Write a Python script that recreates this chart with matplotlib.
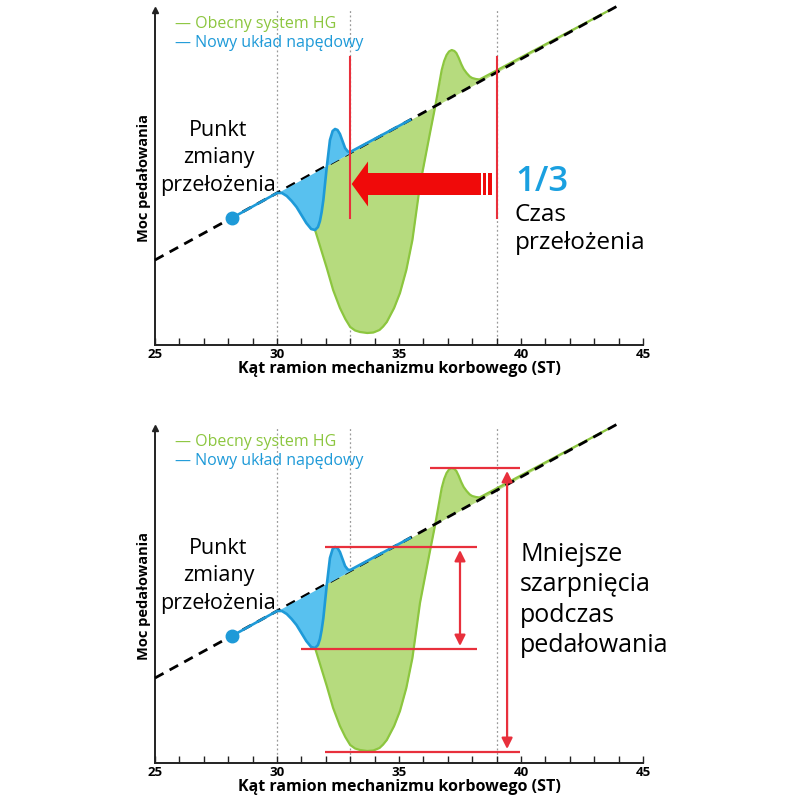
import numpy as np
import matplotlib
matplotlib.use("Agg")
import matplotlib.pyplot as plt
from matplotlib.patches import FancyArrow, Rectangle

plt.rcParams['font.family'] = ['Open Sans', 'DejaVu Sans']

# --- data (x = crank angle ST, y = pedalling power, arbitrary units) ---
base_x = [25.0, 44.14]
base_y = [85.0, 341.5]

blue_x = [28.15, 30.0, 30.2, 30.4, 30.6, 30.8, 31.0, 31.2, 31.4, 31.56, 31.68, 31.76,
          31.83, 31.9, 32.04, 32.17, 32.28, 32.38, 32.48, 32.58, 32.7, 32.79,
          32.9, 33.0, 35.45]
blue_y = [127, 152, 152, 149, 144, 138, 130, 122, 116, 115, 118, 124,
          133, 145, 178, 205, 214, 216, 215, 211, 203, 197,
          193.5, 193, 225]

green_x = [31.56, 31.8, 32.04, 32.3, 32.58, 32.8, 33.0, 33.2, 33.4, 33.7, 33.95,
           34.2, 34.35, 34.5, 34.8, 35.04, 35.3, 35.55, 35.86, 36.27, 36.48,
           36.75, 36.85, 36.95, 37.05, 37.16, 37.27, 37.35, 37.45, 37.55, 37.65,
           37.77, 37.9, 38.0, 38.15, 38.3, 44.14]
green_y = [115, 96, 77, 55, 37, 26, 18, 14.5, 13, 12, 12.5,
           15, 18.5, 23, 37, 52, 75, 105, 160, 212, 238,
           275, 284, 290, 293.5, 295, 294, 292, 287, 281, 276,
           272, 268.5, 267, 266, 265.5, 341.5]

guide_x = [30, 33, 39]
xticks = [25, 30, 35, 40, 45]

# bottom panel jerk levels
jerk_levels = [295, 216, 114, 11]
jerk_from = [36.27, 31.97, 31.0, 31.97]
jerk_to = [39.96, 38.2, 38.2, 39.96]

GREEN = '#8cc63f'
GREEN_FILL = '#b6db7e'
BLUE = '#1e9ad8'
BLUE_FILL = '#58c1ef'
RED = '#e8303c'
TXT_BLUE = '#1aa0e0'


def baseline(x):
    return np.interp(x, base_x, base_y)


def draw_panel(ax):
    ax.set_xlim(25, 45)
    ax.set_ylim(0, 335)
    for s in ['top', 'right']:
        ax.spines[s].set_visible(False)
    for s in ['left', 'bottom']:
        ax.spines[s].set_linewidth(1.4)
        ax.spines[s].set_color('#222222')
    ax.plot(0, 1, marker='^', color='#222222', markersize=5,
            transform=ax.transAxes, clip_on=False)

    ax.set_yticks([])
    ax.set_xticks(xticks)
    ax.set_xticks(np.arange(25, 46, 1), minor=True)
    ax.tick_params(axis='x', which='both', direction='in', length=5, width=1,
                   labelsize=9.5, pad=2, color='#222222')
    for lab in ax.get_xticklabels():
        lab.set_fontweight('bold')
    ax.set_xlabel('Kąt ramion mechanizmu korbowego (ST)', fontsize=11.5,
                  fontweight='bold', labelpad=0)
    ax.set_ylabel('Moc pedałowania', fontsize=10.5, fontweight='bold', labelpad=3)

    for gx in guide_x:
        ax.plot([gx, gx], [0, 335], color='#999999', lw=0.9,
                linestyle=(0, (1.5, 2)), zorder=1)

    gx = np.array(green_x)
    gy = np.array(green_y)
    ax.fill_between(gx, gy, baseline(gx), color=GREEN_FILL, lw=0, zorder=2)
    ax.plot(gx, gy, color=GREEN, lw=1.6, zorder=3)

    ax.plot(base_x, base_y, color='black', lw=2, linestyle=(0, (3.5, 2.5)),
            zorder=4, clip_on=False)

    bx = np.array(blue_x)
    by = np.array(blue_y)
    ax.fill_between(bx, by, baseline(bx), color=BLUE_FILL, lw=0, zorder=5)
    ax.plot(bx, by, color=BLUE, lw=1.9, zorder=6)
    ax.plot(blue_x[0], blue_y[0], 'o', color=BLUE, markersize=9, zorder=7)

    ax.text(25.82, 321, '— Obecny system HG', color=GREEN, fontsize=11.5,
            va='center', ha='left')
    ax.text(25.82, 302, '— Nowy układ napędowy', color=BLUE, fontsize=11.5,
            va='center', ha='left')
    ax.text(27.6, 187, 'Punkt\nzmiany\nprzełożenia', fontsize=15.5,
            ha='center', va='center', linespacing=1.38, zorder=8)


fig = plt.figure(figsize=(8, 8), dpi=100)
ax1 = fig.add_axes([0.19375, 0.56875, 0.61, 0.41875])
ax2 = fig.add_axes([0.19375, 0.04625, 0.61, 0.41875])

draw_panel(ax1)
draw_panel(ax2)

# top panel: shift time shortened to one third
for rx in [33, 39]:
    ax1.plot([rx, rx], [127, 288], color=RED, lw=1.5, zorder=9)
ax1.add_patch(FancyArrow(38.36, 161, 33.06 - 38.36, 0, width=22, head_width=45,
                         head_length=0.67, length_includes_head=True,
                         color='#f00a0a', lw=0, zorder=10))
for x0, x1 in [(38.45, 38.57), (38.66, 38.8)]:
    ax1.add_patch(Rectangle((x0, 150), x1 - x0, 22, color='#f00a0a', lw=0,
                            zorder=10))
ax1.text(39.75, 163, '1/3', color=TXT_BLUE, fontsize=25, ha='left',
         va='center', fontweight='semibold')
ax1.text(39.75, 116, 'Czas\nprzełożenia', fontsize=17.5, ha='left',
         va='center', linespacing=1.19)

# bottom panel: smaller pedalling jerks
ax2.hlines(jerk_levels, jerk_from, jerk_to, color=RED, lw=1.6, zorder=9)
ax2.annotate('', xy=(37.5, 117), xytext=(37.5, 213),
             arrowprops=dict(arrowstyle='<|-|>', color=RED, lw=1.6,
                             mutation_scale=16, shrinkA=0, shrinkB=0),
             zorder=10)
ax2.annotate('', xy=(39.43, 14), xytext=(39.43, 292),
             arrowprops=dict(arrowstyle='<|-|>', color=RED, lw=1.6,
                             mutation_scale=16, shrinkA=0, shrinkB=0),
             zorder=10)
ax2.text(39.96, 163, 'Mniejsze\nszarpnięcia\npodczas\npedałowania',
         fontsize=18, ha='left', va='center', linespacing=1.28)

fig.savefig('out.png', dpi=100, facecolor='white')
